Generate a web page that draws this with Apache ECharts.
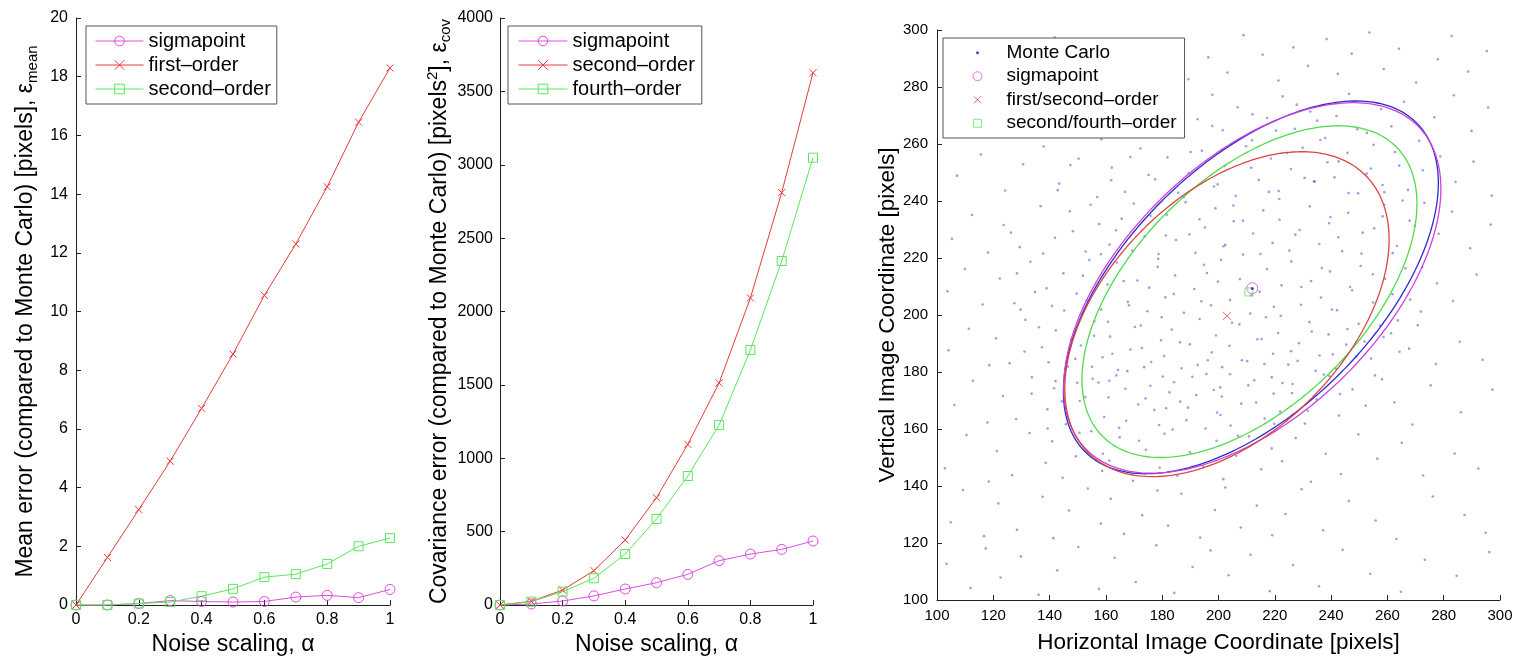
<!DOCTYPE html>
<html><head><meta charset="utf-8">
<script src="https://cdn.jsdelivr.net/npm/echarts@6/dist/echarts.min.js"></script>
<style>html,body{margin:0;padding:0;background:#fff}#c{width:1517px;height:656px}</style>
</head><body><div id="c"></div>
<script>
// ---------- data ----------
const alpha = [0, 0.1, 0.2, 0.3, 0.4, 0.5, 0.6, 0.7, 0.8, 0.9, 1];
// Panel 1: mean error [pixels]
const meanSigma  = [0, 0, 0.05, 0.15, 0.12, 0.1, 0.12, 0.27, 0.33, 0.25, 0.53];
const meanFirst  = [0, 1.62, 3.25, 4.9, 6.7, 8.55, 10.55, 12.3, 14.25, 16.45, 18.3];
const meanSecond = [0, 0, 0.05, 0.1, 0.3, 0.55, 0.95, 1.05, 1.4, 2.0, 2.28];
// Panel 2: covariance error [pixels^2]
const covSigma  = [0, 7, 27, 62, 109, 152, 209, 302, 347, 379, 436];
const covSecond = [0, 25, 102, 234, 443, 731, 1095, 1513, 2092, 2810, 3627];
const covFourth = [0, 23, 91, 182, 347, 586, 879, 1226, 1738, 2344, 3048];
// Panel 3: Monte Carlo cloud (x, y pairs, flat)
const mcXY = [
103.4,112.7,111.9,104.2,117.3,118.1,122.6,107.9,129.8,115.3,136.1,101.8,142.7,110.4,150.2,118.6,157.5,103.9,163.1,114.8,170.6,106.3,177.9,119.2,184.3,102.5,190.8,111.6,197.2,117.4,203.6,108.7,211.4,115.9,218.2,103.1,226.5,112.3,235.7,104.8,244.1,117.6,253.9,109.2,264.8,102.9,273.3,114.1,284.6,108.5,296.2,116.8,
104.9,127.3,109.2,138.6,116.7,122.4,121.8,133.9,128.4,124.6,137.5,136.2,141.3,121.7,146.9,131.4,153.6,139.1,158.2,126.8,161.7,135.5,166.4,123.2,172.9,129.7,178.3,138.4,182.1,126.1,186.8,137.3,193.5,121.9,198.7,131.6,202.4,139.5,207.9,125.4,213.6,133.1,219.1,122.7,223.8,130.2,229.5,138.9,237.2,124.5,246.3,134.7,255.8,127.9,263.2,121.4,276.1,136.3,287.4,129.8,294.9,123.6,
102.8,146.2,110.5,157.9,118.4,141.6,121.3,152.3,126.7,143.8,132.9,158.6,138.6,148.1,140.9,155.7,144.6,142.9,149.3,150.4,154.8,159.2,158.7,145.3,161.2,148.9,164.9,157.1,169.6,141.8,174.2,152.7,179.1,146.4,180.8,158.3,185.4,143.6,189.9,151.8,194.6,146.7,199.3,155.9,201.7,142.4,206.3,150.6,210.8,157.4,215.2,145.9,218.9,153.2,222.6,148.7,227.4,156.8,232.8,141.5,238.1,151.3,243.5,144.2,249.7,158.1,256.4,149.6,265.1,155.2,272.7,143.7,283.9,151.4,292.3,146.1,
106.2,168.4,112.8,176.9,117.9,162.3,123.4,171.6,128.1,163.5,133.7,178.2,139.2,166.9,141.6,174.3,145.8,161.7,150.7,169.8,155.3,177.6,159.4,164.2,160.9,171.1,163.7,178.8,167.2,162.9,171.5,168.6,175.8,175.2,178.9,161.4,181.4,167.3,184.2,176.4,188.6,163.1,192.1,171.9,195.7,179.3,199.5,165.8,200.6,174.6,204.3,161.2,208.1,168.9,212.7,177.1,216.4,163.7,219.6,172.4,221.9,166.1,226.3,175.8,230.7,161.9,234.9,170.3,239.4,178.6,242.8,164.7,247.6,173.9,252.3,168.2,258.1,177.4,262.5,169.4,268.9,161.6,275.4,175.3,286.1,165.9,297.3,173.8,
104.1,187.6,111.3,195.2,118.6,182.4,120.9,191.8,125.8,183.1,131.4,198.3,137.3,188.7,142.2,194.6,146.5,181.9,151.1,189.3,155.9,197.8,158.8,185.2,161.5,192.4,164.3,180.7,168.7,187.9,172.4,196.3,176.1,183.5,179.6,191.1,180.7,185.6,183.4,194.9,186.9,181.3,189.8,189.7,193.3,198.6,196.2,184.1,199.1,192.8,201.3,181.7,203.9,189.2,207.4,196.7,210.2,183.8,213.8,191.5,216.9,199.2,219.4,186.4,221.2,193.7,224.8,182.6,228.6,190.1,232.3,197.5,235.9,185.8,239.1,193.2,241.7,181.2,245.4,189.6,249.8,196.9,254.2,184.7,258.6,192.3,264.3,187.1,270.8,196.4,277.2,182.8,285.7,190.6,293.8,184.3,
103.7,208.3,109.9,216.1,116.2,203.7,122.3,212.8,127.5,204.1,133.2,218.7,138.9,209.4,140.8,203.2,144.9,214.6,149.6,207.5,154.1,219.3,158.3,201.9,160.6,210.7,163.9,218.4,167.8,204.6,171.2,212.1,174.7,201.3,178.4,216.9,181.1,206.2,184.6,213.9,187.7,200.8,191.4,209.1,194.8,217.6,197.3,203.4,199.8,211.7,200.9,219.4,204.1,205.3,207.6,212.6,211.3,200.5,214.6,208.2,217.2,216.1,219.7,202.9,222.4,210.4,225.9,218.8,229.3,203.6,232.9,211.9,236.4,206.1,239.6,215.3,242.1,201.7,246.7,209.8,250.5,217.2,254.9,204.4,259.2,212.7,261.8,207.3,266.4,216.4,271.9,201.2,277.6,211.1,283.3,204.9,291.7,214.2,
105.3,226.7,112.4,235.1,118.1,221.9,123.7,231.6,129.4,223.8,136.8,238.2,141.9,227.1,147.2,236.4,152.8,222.3,157.6,231.9,161.3,224.7,165.6,233.8,169.9,239.1,173.8,227.6,178.7,221.4,181.6,235.2,184.9,226.3,188.3,239.6,191.8,221.8,195.2,230.7,198.9,237.4,201.8,224.1,205.4,232.9,208.7,221.2,212.3,228.6,215.9,236.7,219.2,225.3,221.7,233.4,225.2,222.6,228.8,229.8,232.4,238.1,235.8,224.9,239.3,232.2,242.6,227.3,246.1,235.9,250.8,221.6,255.3,230.4,258.9,238.7,263.4,224.2,267.9,233.1,273.1,239.4,278.2,228.5,282.9,236.3,289.4,223.4,296.7,231.7,
107.1,248.9,115.6,256.3,124.2,243.7,130.6,252.9,137.9,259.1,143.4,246.1,150.3,254.8,156.9,241.4,162.1,251.7,166.8,243.2,172.3,258.4,177.5,247.6,181.9,255.3,185.7,242.9,189.4,249.8,194.1,257.6,198.4,245.1,202.2,252.3,206.1,241.8,209.8,259.2,214.3,247.4,218.6,254.9,221.4,243.5,225.7,251.2,229.9,258.7,234.2,246.8,238.7,253.6,241.2,248.3,245.8,256.9,249.6,242.7,254.1,251.4,258.3,245.6,262.7,257.2,267.3,243.9,272.6,250.8,278.8,255.6,284.2,246.7,290.6,253.8,297.1,241.9,
104.6,267.4,113.9,276.2,121.7,263.1,128.9,271.8,136.2,278.6,144.1,265.9,151.7,274.3,158.4,261.7,163.3,270.6,169.8,277.9,176.4,264.2,182.3,273.1,186.9,262.4,192.6,268.7,197.8,277.3,201.5,264.8,206.8,272.9,211.9,261.3,217.3,269.1,222.8,276.7,227.1,265.3,232.6,271.4,237.9,262.1,241.9,269.8,246.4,277.6,252.7,263.9,257.8,272.3,261.4,266.2,265.9,274.8,271.3,261.1,276.7,269.4,283.6,277.1,289.9,264.6,295.8,272.8,
108.3,284.7,116.9,295.6,125.4,289.3,134.7,281.8,141.8,297.4,147.9,286.2,155.2,292.1,162.7,283.4,168.1,294.7,175.6,288.9,183.9,296.3,189.3,282.7,196.4,290.4,203.2,285.1,208.9,298.2,215.7,291.3,221.3,282.3,226.6,293.9,231.8,287.4,238.4,296.8,242.4,284.6,247.3,291.7,253.6,299.1,258.7,286.3,264.1,293.4,270.2,281.6,277.9,289.7,282.8,297.9,288.7,285.4,295.3,292.6,
146.3,163.8,152.7,171.2,149.1,184.6,157.4,176.3,155.8,192.7,162.3,186.4,166.9,174.1,170.3,195.8,173.6,181.7,168.2,203.4,175.4,209.6,179.8,199.2,182.6,172.9,186.3,190.4,190.7,178.3,193.9,204.8,197.6,186.9,201.2,171.4,204.8,197.3,208.3,184.1,211.7,206.9,215.3,191.6,218.9,178.2,222.1,199.7,225.8,187.3,229.4,209.8,233.1,194.2,236.7,216.5,240.3,201.9,243.9,222.4,247.5,208.7,251.2,228.9,254.8,214.3,258.3,234.6,261.9,221.7,265.4,240.2,
150.6,158.7,158.9,151.3,164.7,160.4,171.8,155.9,177.2,166.7,183.7,159.8,189.2,167.5,195.4,160.2,200.7,164.9,206.9,157.6,213.4,169.3,219.8,161.8,226.1,172.6,231.7,166.4,237.4,179.1,243.2,172.3,248.9,185.4,255.6,178.8,261.3,193.6,267.7,188.2,
145.2,201.6,151.8,213.8,158.2,221.3,163.6,229.7,169.4,222.6,175.9,234.8,181.3,227.9,187.6,241.3,193.2,233.6,199.7,245.9,205.3,238.4,211.6,251.7,217.9,243.2,224.3,256.8,230.6,248.1,236.2,261.4,242.7,253.9,249.3,265.2,255.1,259.7,
148.3,229.4,154.6,238.7,161.9,247.3,168.7,255.4,175.2,249.1,183.4,262.6,190.1,257.2,197.8,266.3,204.6,259.9,212.1,270.4,220.4,264.7,227.8,273.8,235.1,268.2,
142.1,176.8,147.7,191.3,153.2,205.2,160.8,197.6,166.3,211.9,172.8,188.4,178.6,219.7,184.1,207.4,189.7,228.3,195.9,214.7,202.4,224.6,208.7,233.1,214.9,221.4,221.6,240.7,227.3,228.2,233.9,246.9,239.8,234.4,246.2,242.8,252.6,249.6,258.9,243.1,264.2,252.4,269.8,231.3,272.4,216.8,268.1,205.4,263.7,198.1,257.4,196.3,251.9,190.7,245.8,195.1,240.6,186.2,234.5,180.4,228.1,183.9,222.7,176.1,216.3,182.8,210.6,175.3,204.1,179.2,198.3,173.7,192.6,182.5,186.4,169.6,180.2,178.4,174.1,170.7,167.6,180.3,161.2,176.9,155.1,181.8,149.8,176.2,144.3,169.7,
139.6,183.4,136.2,195.7,134.8,208.1,137.7,221.6,142.9,243.8,147.4,252.6,139.3,160.2,133.6,172.4,131.1,187.2,129.7,201.9,128.4,214.6,126.3,228.9
];
// means of each estimate
const mcMean     = [212.0, 209.3];
const sigmaMean  = [212.0, 209.4];
const firstMean  = [203.0, 199.7];
const secondMean = [210.8, 208.1];
// covariance ellipses: centre x, centre y, std x, std y, correlation
const ellMC     = [211.5, 209.7, 66.6, 65.4, 0.56];
const ellSigma  = [212.0, 209.5, 67.0, 65.0, 0.535];
const ellFirst  = [203.0, 200.3, 57.6, 57.0, 0.46];
const ellSecond = [211.0, 208.2, 59.5, 58.2, 0.53];

// ---------- helpers ----------
const FONT = 'Liberation Sans, Arial, Helvetica, sans-serif';
const COL = {mag: '#e04ce0', red: '#e83c3c', grn: '#5ce65c', blue: '#2b2bd0', eMag: '#d040d8', eRed: '#d84545', eGrn: '#4cdc4c'};
const XSYM = 'path://M0,0L10,10M10,0L0,10';
function pairs(xs, ys) { return xs.map((x, i) => [x, ys[i]]); }
function ellipse(p) {
  const [cx, cy, sx, sy, r] = p; const k = Math.sqrt(1 - r * r); const out = [];
  for (let i = 0; i <= 240; i++) { const t = i / 240 * 2 * Math.PI; out.push([cx + sx * Math.cos(t), cy + sy * (r * Math.cos(t) + k * Math.sin(t))]); }
  return out;
}
const mcPts = []; for (let i = 0; i < mcXY.length; i += 2) mcPts.push([mcXY[i], mcXY[i + 1]]);

function axis(o) {
  return {
    type: 'value', gridIndex: o.g, min: o.min, max: o.max, interval: o.interval,
    name: o.name, nameLocation: 'middle', nameGap: o.nameGap,
    nameTextStyle: Object.assign({color: '#000', fontFamily: FONT, fontSize: o.nameSize || 23}, o.rich ? {rich: o.rich} : {}),
    splitLine: {show: false},
    axisLine: {show: true, onZero: false, lineStyle: {color: '#222', width: 1}},
    axisTick: {show: true, inside: true, length: 5, lineStyle: {color: '#222', width: 1}},
    axisLabel: {color: '#000', fontFamily: FONT, fontSize: o.labelSize || 16, margin: o.margin || 7, formatter: v => String(v)}
  };
}
const rich = {
  a: {fontFamily: FONT, fontSize: 23, lineHeight: 28, color: '#000'},
  b: {fontFamily: FONT, fontSize: 15, lineHeight: 12, verticalAlign: 'bottom', color: '#000'},
  s: {fontFamily: FONT, fontSize: 15, lineHeight: 16, verticalAlign: 'top', color: '#000'}
};
function lineSeries(name, xi, data, color, symbol, size) {
  return {
    type: 'line', name: name, xAxisIndex: xi, yAxisIndex: xi, data: data, clip: false,
    symbol: symbol, symbolSize: size, showSymbol: true,
    lineStyle: {color: color, width: 1},
    itemStyle: {color: 'rgba(0,0,0,0)', borderColor: color, borderWidth: 1}
  };
}
function legendBase(o) {
  return Object.assign({
    orient: 'vertical', backgroundColor: '#fff', borderColor: '#555', borderWidth: 1, borderRadius: 0,
    itemGap: 4, selectedMode: false,
    textStyle: {fontFamily: FONT, fontSize: 20, color: '#000', lineHeight: 20},
    lineStyle: {width: 1}, itemStyle: {borderWidth: 1},
    formatter: n => n.slice(2)
  }, o);
}

const option = {
  animation: false,
  backgroundColor: '#fff',
  grid: [
    {left: 76, top: 18, width: 314, height: 587, containLabel: false, outerBoundsMode: 'none'},
    {left: 500, top: 18, width: 313, height: 587, containLabel: false, outerBoundsMode: 'none'},
    {left: 937, top: 30, width: 563, height: 570, containLabel: false, outerBoundsMode: 'none'}
  ],
  xAxis: [
    axis({g: 0, min: 0, max: 1, interval: 0.2, name: 'Noise scaling, α', nameGap: 26}),
    axis({g: 1, min: 0, max: 1, interval: 0.2, name: 'Noise scaling, α', nameGap: 26}),
    axis({g: 2, min: 100, max: 300, interval: 20, name: 'Horizontal Image Coordinate [pixels]', nameGap: 31, nameSize: 22.5, labelSize: 15, margin: 8})
  ],
  yAxis: [
    axis({g: 0, min: 0, max: 20, interval: 2, name: '{a|Mean error (compared to Monte Carlo) [pixels], ε}{b|mean}', nameGap: 36, rich: rich, margin: 8}),
    axis({g: 1, min: 0, max: 4000, interval: 500, name: '{a|Covariance error (compared to Monte Carlo) [pixels}{s|2}{a|], ε}{b|cov}', nameGap: 44, rich: rich, margin: 7}),
    axis({g: 2, min: 100, max: 300, interval: 20, name: 'Vertical Image Coordinate [pixels]', nameGap: 38, nameSize: 22.5, labelSize: 15, margin: 9})
  ],
  legend: [
    legendBase({left: 86, top: 26, padding: [5, 6, 5, 9], itemWidth: 48, itemHeight: 12,
      data: ['m:sigmapoint', 'm:first–order', 'm:second–order']}),
    legendBase({left: 508, top: 26, padding: [5, 7, 5, 10], itemWidth: 49, itemHeight: 12,
      data: ['c:sigmapoint', 'c:second–order', 'c:fourth–order']}),
    legendBase({left: 943, top: 38, padding: [5, 8, 5, 10], itemWidth: 48, itemHeight: 10,
      textStyle: {fontFamily: FONT, fontSize: 19, color: '#000', lineHeight: 19.5},
      data: [
        {name: 'r:Monte Carlo', icon: 'path://M0,0M48,10M24,3.5A1.5,1.5,0,1,1,24,6.5A1.5,1.5,0,1,1,24,3.5Z', itemStyle: {color: '#1a1ab8'}},
        {name: 'r:sigmapoint', icon: 'path://M0,0M48,10M24,0.5A4.5,4.5,0,1,1,24,9.5A4.5,4.5,0,1,1,24,0.5Z'},
        {name: 'r:first/second–order', icon: 'path://M0,0M48,10M20.5,1.5L27.5,8.5M27.5,1.5L20.5,8.5'},
        {name: 'r:second/fourth–order', icon: 'path://M0,0M48,10M20,1L28,1L28,9L20,9Z'}
      ]})
  ],
  series: [
    lineSeries('m:sigmapoint', 0, pairs(alpha, meanSigma), COL.mag, 'circle', 10),
    lineSeries('m:first–order', 0, pairs(alpha, meanFirst), COL.red, XSYM, 7),
    lineSeries('m:second–order', 0, pairs(alpha, meanSecond), COL.grn, 'rect', 9),
    lineSeries('c:sigmapoint', 1, pairs(alpha, covSigma), COL.mag, 'circle', 10),
    lineSeries('c:second–order', 1, pairs(alpha, covSecond), COL.red, XSYM, 7),
    lineSeries('c:fourth–order', 1, pairs(alpha, covFourth), COL.grn, 'rect', 9),
    {type: 'scatter', name: 'r:Monte Carlo', xAxisIndex: 2, yAxisIndex: 2, data: mcPts, symbol: 'circle', symbolSize: 2.6,
      itemStyle: {color: 'rgba(55,55,200,0.6)'}, silent: true, z: 1},
    {type: 'line', name: 'e:mc', xAxisIndex: 2, yAxisIndex: 2, data: ellipse(ellMC), showSymbol: false, symbol: 'none', lineStyle: {color: COL.blue, width: 1.3}, silent: true, z: 3},
    {type: 'line', name: 'e:sigma', xAxisIndex: 2, yAxisIndex: 2, data: ellipse(ellSigma), showSymbol: false, symbol: 'none', lineStyle: {color: COL.eMag, width: 1.3}, silent: true, z: 3},
    {type: 'line', name: 'e:second', xAxisIndex: 2, yAxisIndex: 2, data: ellipse(ellSecond), showSymbol: false, symbol: 'none', lineStyle: {color: COL.eGrn, width: 1.3}, silent: true, z: 3},
    {type: 'line', name: 'e:first', xAxisIndex: 2, yAxisIndex: 2, data: ellipse(ellFirst), showSymbol: false, symbol: 'none', lineStyle: {color: COL.eRed, width: 1.3}, silent: true, z: 3},
    {type: 'scatter', name: 'r:sigmapoint', xAxisIndex: 2, yAxisIndex: 2, data: [sigmaMean], symbol: 'circle', symbolSize: 11,
      itemStyle: {color: 'rgba(0,0,0,0)', borderColor: COL.mag, borderWidth: 1}, z: 4},
    {type: 'scatter', name: 'r:first/second–order', xAxisIndex: 2, yAxisIndex: 2, data: [firstMean], symbol: XSYM, symbolSize: 8,
      itemStyle: {color: 'rgba(0,0,0,0)', borderColor: COL.red, borderWidth: 1}, z: 4},
    {type: 'scatter', name: 'r:second/fourth–order', xAxisIndex: 2, yAxisIndex: 2, data: [secondMean], symbol: 'rect', symbolSize: 8,
      itemStyle: {color: 'rgba(0,0,0,0)', borderColor: COL.grn, borderWidth: 1}, z: 4},
    {type: 'scatter', name: 'e:mcmean', xAxisIndex: 2, yAxisIndex: 2, data: [mcMean], symbol: 'circle', symbolSize: 3,
      itemStyle: {color: '#1a1ab8'}, z: 5}
  ]
};
const chart = echarts.init(document.getElementById('c'), null, {renderer: 'canvas'});
chart.setOption(option);
</script></body></html>
